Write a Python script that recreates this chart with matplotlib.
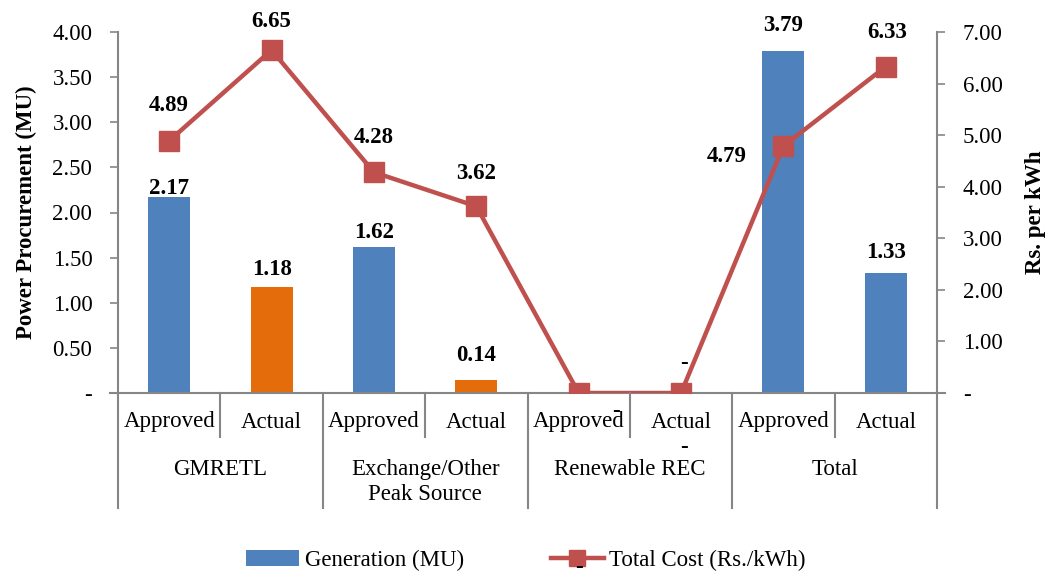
import matplotlib
matplotlib.use("Agg")
import matplotlib.pyplot as plt
from matplotlib.lines import Line2D
from matplotlib.patches import Patch
from matplotlib.transforms import blended_transform_factory

plt.rcParams['font.family'] = ['Liberation Serif', 'DejaVu Serif']

# ---- data ----
groups = ["GMRETL", "Exchange/Other\nPeak Source", "Renewable REC", "Total"]
subcats = ["Approved", "Actual", "Approved", "Actual", "Approved", "Actual", "Approved", "Actual"]
generation = [2.17, 1.18, 1.62, 0.14, 0.0, 0.0, 3.79, 1.33]
total_cost = [4.89, 6.65, 4.28, 3.62, 0.0, 0.0, 4.79, 6.33]
left_ticks = [0, 0.5, 1.0, 1.5, 2.0, 2.5, 3.0, 3.5, 4.0]
right_ticks = [0, 1, 2, 3, 4, 5, 6, 7]

# ---- styles / layout ----
BLUE = "#4F81BD"
ORANGE = "#E46C0A"
RED = "#C0504D"
GRAY = "#868686"
bar_colors = [BLUE, ORANGE, BLUE, ORANGE, BLUE, BLUE, BLUE, BLUE]
# label offsets in pixels (dx, dy) relative to bar top / marker centre
bar_lbl_off = [(0, 9), (0, 17), (0, 14), (0, 25), (37, -18), (3, -55), (0, 25), (0, 20)]
line_lbl_off = [(0, 35), (0, 29), (0, 35), (0, 33), (0, -175), (3, 30), (-57, -11), (1, 34)]
FS = 16.5

fig = plt.figure(figsize=(10.45, 5.72), dpi=100)
ax = fig.add_axes([118/1045, 1 - 393/572, 819/1045, 361/572])
ax2 = ax.twinx()

x = list(range(len(subcats)))
bars = ax.bar(x, generation, width=0.41, color=bar_colors, zorder=2)
ax.set_xlim(-0.5, len(subcats) - 0.5)
ax.set_ylim(0, 4)
ax2.set_ylim(0, 7)

line, = ax2.plot(x, total_cost, color=RED, lw=3.2, marker="s", ms=14,
                 markerfacecolor=RED, markeredgecolor=RED, zorder=3)

def fmt(v):
    return "-" if v == 0 else f"{v:.2f}"

ax.set_yticks(left_ticks)
ax.set_yticklabels([fmt(v) for v in left_ticks], fontsize=FS)
ax2.set_yticks(right_ticks)
ax2.set_yticklabels([fmt(v) for v in right_ticks], fontsize=FS)
for a in (ax, ax2):
    a.tick_params(axis='y', direction='out', length=5.5, width=1.2, color=GRAY, pad=13)
    for s in a.spines.values():
        s.set_color(GRAY)
        s.set_linewidth(1.5)
    a.spines['top'].set_visible(False)
ax.spines['right'].set_visible(False)
ax2.spines['left'].set_visible(False)
ax2.spines['bottom'].set_visible(False)
ax.set_xticks([])
ax.spines['bottom'].set_bounds(-0.58, len(subcats) - 0.42)

ax.set_ylabel("Power Procurement (MU)", fontsize=FS, fontweight='bold', labelpad=11)
ax2.set_ylabel("Rs. per kWh", fontsize=FS, fontweight='bold', rotation=90, labelpad=16)

# data labels
for i, (v, off) in enumerate(zip(generation, bar_lbl_off)):
    ax.annotate(fmt(v), (x[i], v), xytext=off, textcoords='offset pixels',
                ha='center', va='center', fontsize=FS, fontweight='bold', zorder=5)
for i, (v, off) in enumerate(zip(total_cost, line_lbl_off)):
    ax2.annotate(fmt(v), (x[i], v), xytext=off, textcoords='offset pixels',
                 ha='center', va='center', fontsize=FS, fontweight='bold', zorder=7,
                 annotation_clip=False)

# multi-level category axis
tr = blended_transform_factory(ax.transData, fig.transFigure)
y_axis = 1 - 393 / 572
y_row1 = 1 - 437 / 572
y_row2 = 1 - 508 / 572
for i in range(len(subcats) + 1):
    xb = i - 0.5
    ybot = y_row2 if i % 2 == 0 else y_row1
    fig.add_artist(Line2D([xb, xb], [y_axis, ybot], transform=tr, color=GRAY, lw=1.5))
for i, s in enumerate(subcats):
    fig.text(i, 1 - 422 / 572, s, transform=tr, ha='center', va='center', fontsize=FS)
for g, name in enumerate(groups):
    fig.text(2 * g + 0.5, 1 - 459 / 572, name, transform=tr, ha='center', va='top',
             fontsize=FS, linespacing=1.22)

# legend (attached to ax2 so the stray data label can sit on top of it)
handles = [Patch(facecolor=BLUE, edgecolor='none'),
           Line2D([0], [0], color=RED, lw=3.2, marker='s', ms=12)]
leg = ax2.legend(handles, ["Generation (MU)", "Total Cost (Rs./kWh)"], loc='center',
                 bbox_to_anchor=(526 / 1045, 1 - 560 / 572), bbox_transform=fig.transFigure,
                 ncol=2, frameon=False, fontsize=FS, handlelength=2.3, columnspacing=3.8,
                 handletextpad=0.25, borderpad=0.2)
leg.set_zorder(6)

fig.savefig("out.png", dpi=100)
